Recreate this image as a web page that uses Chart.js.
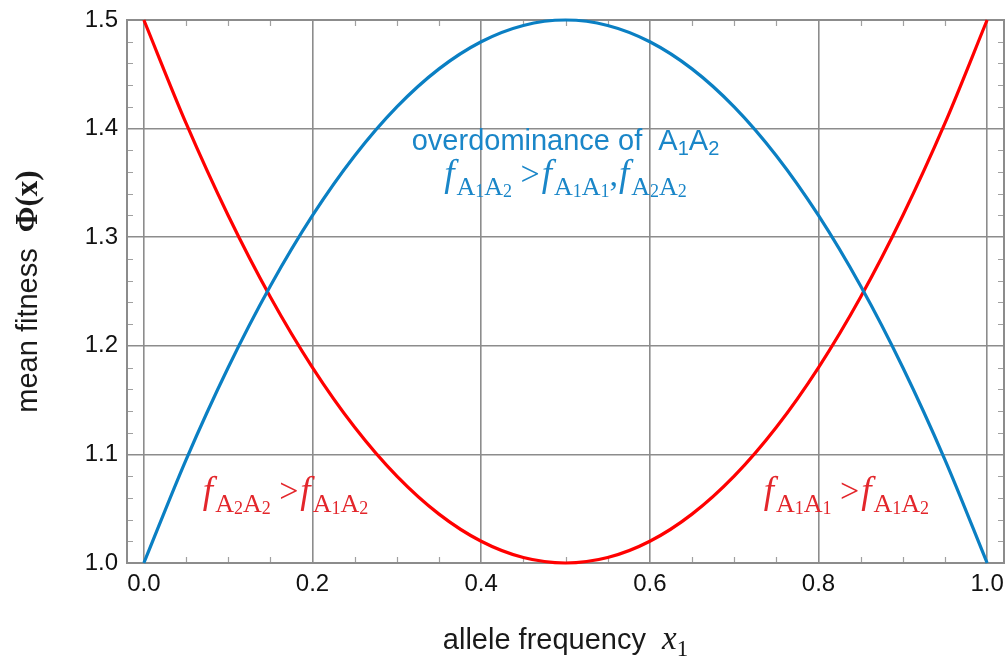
<!DOCTYPE html>
<html>
<head>
<meta charset="utf-8">
<script src="https://cdn.jsdelivr.net/npm/chart.js@4.4.1/dist/chart.umd.min.js"></script>
<style>
html,body{margin:0;padding:0;background:#fff;}
#wrap{width:1007px;height:662px;position:relative;}
</style>
</head>
<body>
<div id="wrap"><canvas id="c" width="1007" height="662"></canvas></div>
<script>
// ---- data ----
const xValues = [0.00,0.05,0.10,0.15,0.20,0.25,0.30,0.35,0.40,0.45,0.50,0.55,0.60,0.65,0.70,0.75,0.80,0.85,0.90,0.95,1.00];
const overdominanceValues = [1.000,1.095,1.180,1.255,1.320,1.375,1.420,1.455,1.480,1.495,1.500,1.495,1.480,1.455,1.420,1.375,1.320,1.255,1.180,1.095,1.000];
const underdominanceValues = [1.500,1.405,1.320,1.245,1.180,1.125,1.080,1.045,1.020,1.005,1.000,1.005,1.020,1.045,1.080,1.125,1.180,1.245,1.320,1.405,1.500];
const xTickValues = [0.0,0.2,0.4,0.6,0.8,1.0];
const yTickValues = [1.0,1.1,1.2,1.3,1.4,1.5];
const xMinorTicks = [0.05,0.1,0.15,0.25,0.3,0.35,0.45,0.5,0.55,0.65,0.7,0.75,0.85,0.9,0.95];
const yMinorTicks = [1.02,1.04,1.06,1.08,1.12,1.14,1.16,1.18,1.22,1.24,1.26,1.28,1.32,1.34,1.36,1.38,1.42,1.44,1.46,1.48];

const BLUE = '#0a7fc3';
const BLUE_TXT = '#1a86c8';
const RED = '#ff0000';
const RED_TXT = '#e3262b';
const SANS = '"Liberation Sans", Arial, Helvetica, sans-serif';
const SERIF = '"Liberation Serif", "Times New Roman", serif';

function drawRuns(ctx, runs, cx, baseY, color, align) {
  ctx.save();
  ctx.fillStyle = color;
  ctx.textBaseline = 'alphabetic';
  ctx.textAlign = 'left';
  let total = 0;
  runs.forEach(r => { ctx.font = r.font; total += ctx.measureText(r.t).width + (r.gap || 0); });
  let x = align === 'left' ? cx : cx - total / 2;
  runs.forEach(r => {
    ctx.font = r.font;
    ctx.fillText(r.t, x, baseY + (r.dy || 0));
    x += ctx.measureText(r.t).width + (r.gap || 0);
  });
  ctx.restore();
}

const F_MAIN = 'italic 37px ' + SERIF;
const F_SUB = '26px ' + SERIF;
const F_SUB2 = '18px ' + SERIF;
function fSym(a, b) {
  return [
    {t:'f', font:F_MAIN, dy:0, gap:2},
    {t:'A', font:F_SUB, dy:9},
    {t:a, font:F_SUB2, dy:11},
    {t:'A', font:F_SUB, dy:9},
    {t:b, font:F_SUB2, dy:11}
  ];
}
const GT = {t:' >', font:'34px ' + SERIF, dy:-1, gap:2};

const decorations = {
  id: 'decorations',
  beforeDatasetsDraw(chart) {
    const {ctx, chartArea:a, scales:{x, y}} = chart;
    ctx.save();
    ctx.strokeStyle = '#a0a0a0';
    ctx.lineWidth = 1.2;
    ctx.beginPath();
    xMinorTicks.forEach(v => {
      const px = Math.round(x.getPixelForValue(v)) + 0.5;
      ctx.moveTo(px, a.bottom); ctx.lineTo(px, a.bottom - 6);
      ctx.moveTo(px, a.top); ctx.lineTo(px, a.top + 6);
    });
    yMinorTicks.forEach(v => {
      const py = Math.round(y.getPixelForValue(v)) + 0.5;
      ctx.moveTo(a.left, py); ctx.lineTo(a.left + 6, py);
      ctx.moveTo(a.right, py); ctx.lineTo(a.right - 6, py);
    });
    ctx.stroke();
    ctx.strokeStyle = '#8c8c8c';
    ctx.lineWidth = 2;
    ctx.strokeRect(a.left, a.top, a.right - a.left, a.bottom - a.top);
    ctx.restore();
  },
  afterDatasetsDraw(chart) {
    const {ctx, chartArea:a, scales:{x, y}} = chart;
    // blue annotation
    drawRuns(ctx, [
      {t:'overdominance of  A', font:'29px ' + SANS},
      {t:'1', font:'20px ' + SANS, dy:5},
      {t:'A', font:'29px ' + SANS},
      {t:'2', font:'20px ' + SANS, dy:5}
    ], x.getPixelForValue(0.5), y.getPixelForValue(1.380), BLUE_TXT);
    drawRuns(ctx, [].concat(fSym('1','2'), [GT], fSym('1','1'), [{t:',', font:'34px ' + SERIF, dy:0, gap:1}], fSym('2','2')),
      x.getPixelForValue(0.5), y.getPixelForValue(1.347), BLUE_TXT);
    // red annotations
    drawRuns(ctx, [].concat(fSym('2','2'), [GT], fSym('1','2')),
      x.getPixelForValue(0.168), y.getPixelForValue(1.0555), RED_TXT);
    drawRuns(ctx, [].concat(fSym('1','1'), [GT], fSym('1','2')),
      x.getPixelForValue(0.833), y.getPixelForValue(1.0555), RED_TXT);

    // axis titles
    const cx = (a.left + a.right) / 2;
    drawRuns(ctx, [
      {t:'allele frequency  ', font:'29px ' + SANS},
      {t:'x', font:'italic 33px ' + SERIF},
      {t:'1', font:'23px ' + SERIF, dy:7}
    ], cx, 649, '#1a1a1a');
    ctx.save();
    ctx.translate(37, (a.top + a.bottom) / 2);
    ctx.rotate(-Math.PI / 2);
    drawRuns(ctx, [
      {t:'mean fitness  ', font:'29px ' + SANS},
      {t:'\u03A6(', font:'bold 31px ' + SERIF},
      {t:'x', font:'bold 31px ' + SERIF},
      {t:')', font:'bold 31px ' + SERIF}
    ], 0, 0, '#1a1a1a');
    ctx.restore();
  }
};

new Chart(document.getElementById('c'), {
  type: 'line',
  data: {
    datasets: [
      {
        label: 'overdominance',
        data: xValues.map((v, i) => ({x: v, y: overdominanceValues[i]})),
        borderColor: BLUE, borderWidth: 3.2, pointRadius: 0,
        cubicInterpolationMode: 'monotone', fill: false, clip: false
      },
      {
        label: 'underdominance',
        data: xValues.map((v, i) => ({x: v, y: underdominanceValues[i]})),
        borderColor: RED, borderWidth: 3.2, pointRadius: 0,
        cubicInterpolationMode: 'monotone', fill: false, clip: false
      }
    ]
  },
  options: {
    responsive: false,
    animation: false,
    events: [],
    layout: {padding: {left: 0, right: 3, top: 20, bottom: 0}},
    plugins: {legend: {display: false}, tooltip: {enabled: false}, title: {display: false}},
    scales: {
      x: {
        type: 'linear', min: -0.02, max: 1.02,
        afterBuildTicks(s) { s.ticks = xTickValues.map(v => ({value: v})); },
        afterFit(s) { s.height = 99; s.paddingLeft = 0; s.paddingRight = 0; },
        grid: {color: '#8c8c8c', lineWidth: 1.6, drawTicks: false},
        border: {display: false},
        ticks: {
          padding: 7, color: '#111', font: {family: SANS, size: 24},
          maxRotation: 0, autoSkip: false,
          callback: v => Number(v).toFixed(1)
        }
      },
      y: {
        type: 'linear', min: 1.0, max: 1.5,
        afterBuildTicks(s) { s.ticks = yTickValues.map(v => ({value: v})); },
        afterFit(s) { s.width = 127; s.paddingTop = 0; s.paddingBottom = 0; },
        grid: {color: '#8c8c8c', lineWidth: 1.6, drawTicks: false},
        border: {display: false},
        ticks: {
          padding: 9, color: '#111', font: {family: SANS, size: 24},
          autoSkip: false,
          callback: v => Number(v).toFixed(1)
        }
      }
    }
  },
  plugins: [decorations]
});
</script>
</body>
</html>
